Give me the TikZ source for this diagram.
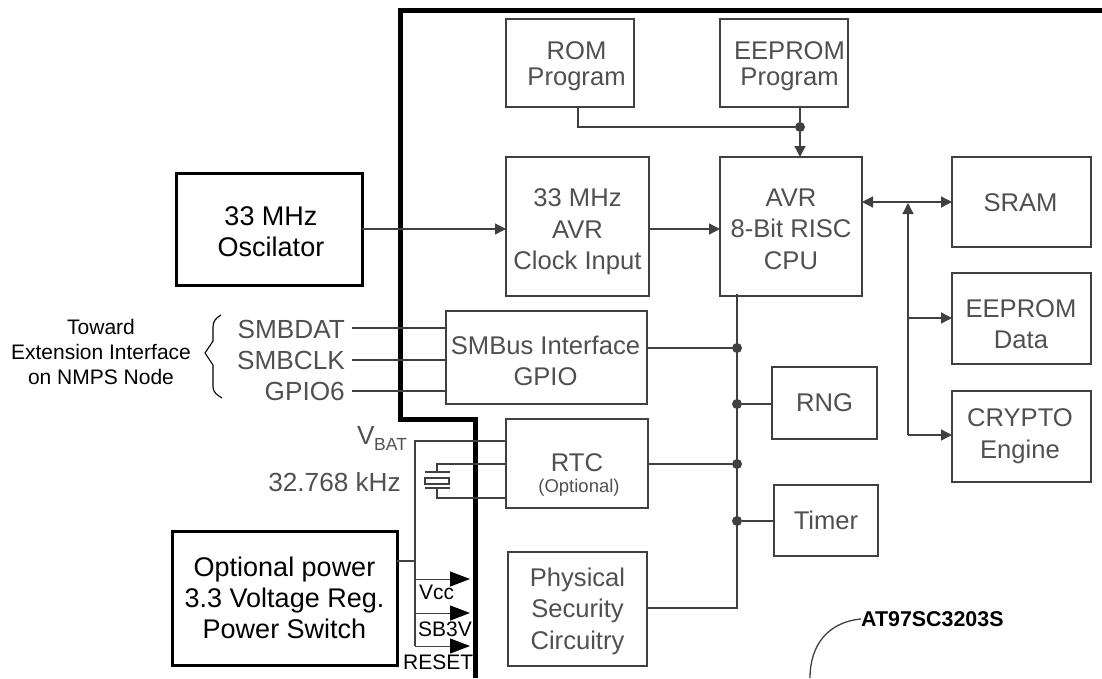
\documentclass[tikz,border=0pt]{standalone}
\usepackage{fontspec}
\setmainfont{Liberation Sans}
\usetikzlibrary{arrows.meta}
\definecolor{ink}{HTML}{404040}
\definecolor{txt}{HTML}{505050}
\tikzset{
  x=1pt,y=-1pt,
  box/.style={draw=ink,line width=1.5pt,outer sep=0pt,inner sep=0pt,align=center,text=txt,font=\fontsize{25.6}{31.5}\selectfont},
  boxtext/.style={inner sep=0pt,align=center,text=txt,font=\fontsize{25.6}{26}\selectfont},
  boxtextw/.style={inner sep=0pt,align=center,text=txt,font=\fontsize{25.6}{31.5}\selectfont},
  thickbox/.style={draw=black,line width=3pt,outer sep=0pt,inner sep=0pt,align=center,text=black,font=\fontsize{27}{31}\selectfont},
  wire/.style={draw=ink,line width=1.3pt},
  arr/.style={wire,-{Triangle[length=11pt,width=11pt]}},
  barr/.style={wire,{Triangle[length=11pt,width=11pt]}-{Triangle[length=11pt,width=11pt]}},
  bigarr/.style={draw=ink,line width=1pt,-{Triangle[length=20pt,width=15pt,color=black]}},
  dot/.style={circle,fill=ink,inner sep=0pt,minimum size=10pt},
  lbl/.style={text=txt,inner sep=0pt,font=\fontsize{26.2}{28}\selectfont},
  wall/.style={draw=black,line width=5pt,line join=miter}
}
\begin{document}
\begin{tikzpicture}
\useasboundingbox (0,0) rectangle (1102,678);
\draw[wall] (1102,10) -- (400,10) -- (400,419) -- (475,419) -- (475,678);
\node[box,minimum width=128pt,minimum height=88pt,anchor=north west] (rom) at (506,19) {};
\node[boxtext] (romt) at (576.5,66) {ROM\\Program};
\node[box,minimum width=128pt,minimum height=88pt,anchor=north west] (eeprom) at (720,19) {};
\node[boxtext] (eet) at (789.5,66) {EEPROM\\Program};
\node[box,minimum width=143pt,minimum height=139pt,anchor=north west] (clk) at (506,157) {};
\node[boxtextw] (clkt) at (577.5,232) {33 MHz\\AVR\\Clock Input};
\node[box,minimum width=142pt,minimum height=139pt,anchor=north west] (cpu) at (720,157) {};
\node[boxtextw] (cput) at (791,229) {AVR\\8-Bit RISC\\CPU};
\node[box,minimum width=139pt,minimum height=90pt,anchor=north west] (sram) at (952,157) {};
\node[boxtextw] (sramt) at (1020.5,203) {SRAM};
\node[box,minimum width=139pt,minimum height=91pt,anchor=north west] (eed) at (952,273) {};
\node[boxtextw] (eedt) at (1021,324) {EEPROM\\Data};
\node[box,minimum width=139pt,minimum height=91pt,anchor=north west] (cry) at (952,391) {};
\node[boxtextw] (cryt) at (1020,436) {CRYPTO\\Engine};
\node[box,minimum width=105pt,minimum height=72pt,anchor=north west] (rng) at (772,367) {RNG};
\node[box,minimum width=104pt,minimum height=71pt,anchor=north west] (tim) at (774,485) {Timer};
\node[box,minimum width=201pt,minimum height=93pt,anchor=north west] (smb) at (446,311) {};
\node[boxtextw] (smbt) at (545.5,361) {SMBus Interface\\GPIO};
\node[box,minimum width=142pt,minimum height=89pt,anchor=north west] (rtc) at (506,419) {};
\node[text=txt,inner sep=0pt,font=\fontsize{25.6}{28}\selectfont] (rtct) at (577,463) {RTC};
\node[text=txt,inner sep=0pt,font=\fontsize{18.5}{20}\selectfont] (rtco) at (579,488) {(Optional)};
\node[box,minimum width=139pt,minimum height=114pt,anchor=north west] (phy) at (508,552) {};
\node[boxtextw] (phyt) at (577.5,611) {Physical\\Security\\Circuitry};
\node[thickbox,minimum width=186pt,minimum height=112pt,anchor=north west] (osc) at (176,173) {};
\node[inner sep=0pt,align=center,text=black,font=\fontsize{27}{31}\selectfont] (osct) at (271,232) {33 MHz\\Oscilator};
\node[thickbox,minimum width=225pt,minimum height=134pt,anchor=north west] (pwr) at (172,531) {Optional power\\3.3 Voltage Reg.\\Power Switch};
% top bus
\coordinate (eb) at (800,107);
\coordinate (ec) at (800,157);
\coordinate (rb) at (578,107);
\node[dot] (j1) at (800,127) {};
\draw[wire] (eb) -- (j1);
\draw[wire] (rb) -- (rb |- j1) -- (j1);
\draw[arr] (j1) -- (ec);
% clock
\draw[arr] (osc.east |- 0,229) -- (clk.west |- 0,229);
\draw[arr] (clk.east |- 0,229) -- (cpu.west |- 0,229);
% data bus
\coordinate (cr) at (862,202);
\coordinate (sl) at (952,202);
\draw[barr] (cr) -- (sl);
\coordinate (bt) at (908,203);
\coordinate (bb) at (908,435);
\draw[wire,-{Triangle[length=11pt,width=11pt]}] (bb) -- (bt);
\coordinate (b1) at (908,318);
\draw[arr] (b1) -- (eed.west |- b1);
\draw[arr] (bb) -- (cry.west |- bb);
% internal bus
\coordinate (it) at (737,294);
\coordinate (ib) at (737,608);
\draw[wire] (it) -- (ib) -- (phy.east |- ib);
\node[dot] (j2) at (737,348) {};
\node[dot] (j3) at (737,404) {};
\node[dot] (j4) at (737,464) {};
\node[dot] (j5) at (737,521) {};
\draw[wire] (smb.east |- j2) -- (j2);
\draw[wire] (j3) -- (rng.west |- j3);
\draw[wire] (rtc.east |- j4) -- (j4);
\draw[wire] (j5) -- (tim.west |- j5);
% SMBus pins
\node[lbl,anchor=east] (sd) at (345,329) {SMBDAT};
\node[lbl,anchor=east] (sc) at (345,360) {SMBCLK};
\node[lbl,anchor=east] (gp) at (345,391) {GPIO6};
\draw[wire] (352,328) -- (smb.west |- 0,328);
\draw[wire] (352,360) -- (smb.west |- 0,360);
\draw[wire] (352,391) -- (smb.west |- 0,391);
\node[align=center,text=black,inner sep=0pt,font=\fontsize{21}{25}\selectfont] (tw) at (101,352) {Toward\\Extension Interface\\on NMPS Node};
\draw[black,line width=1.1pt,line join=miter] (221,315) .. controls (216,318) and (213,321) .. (213,327) -- (213,341) -- (205,353) -- (213,365) -- (213,387) .. controls (213,392) and (217,395) .. (222,398);
% RTC side
\node[lbl,anchor=west] (vb) at (357,435) {V};
\node[inner sep=0pt,text=txt,font=\fontsize{17.5}{19}\selectfont,anchor=west] (vbs) at (374,444) {BAT};
\node[lbl,anchor=east] (khz) at (401,482) {32.768 kHz};
\coordinate (vt) at (415,441);
\coordinate (vbm) at (415,646);
\draw[wire] (rtc.west |- vt) -- (vt) -- (vbm);
\draw[wire] (pwr.east |- 0,561) -- (415,561);
\draw[wire] (rtc.west |- 0,464) -- (437,464) -- (437,472);
\draw[wire] (rtc.west |- 0,498) -- (437,498) -- (437,488);
\draw[wire,fill=white] (425,478) rectangle (449,484);
\draw[wire] (425,472) -- (450,472);
\draw[wire] (425,488) -- (450,488);
% Vcc etc
\draw[bigarr] (415,579) -- (470,579);
\draw[bigarr] (415,613) -- (470,613);
\draw[bigarr] (415,646) -- (470,646);
\node[inner sep=0pt,anchor=west,text=black,font=\fontsize{21}{23}\selectfont] (vcc) at (419,592) {Vcc};
\node[inner sep=0pt,anchor=west,text=black,font=\fontsize{21}{23}\selectfont] (sb) at (418,629) {SB3V};
\node[inner sep=0pt,anchor=west,text=black,font=\fontsize{21}{23}\selectfont] (rs) at (403,662) {RESET};
% label
\node[inner sep=0pt,anchor=west,text=black,font=\bfseries\fontsize{21.4}{23}\selectfont] (at) at (861,619) {AT97SC3203S};
\coordinate (al) at (810,678);
\draw[wire] (al) .. controls (810,645) and (828,622) .. (at.west);
\end{tikzpicture}
\end{document}
